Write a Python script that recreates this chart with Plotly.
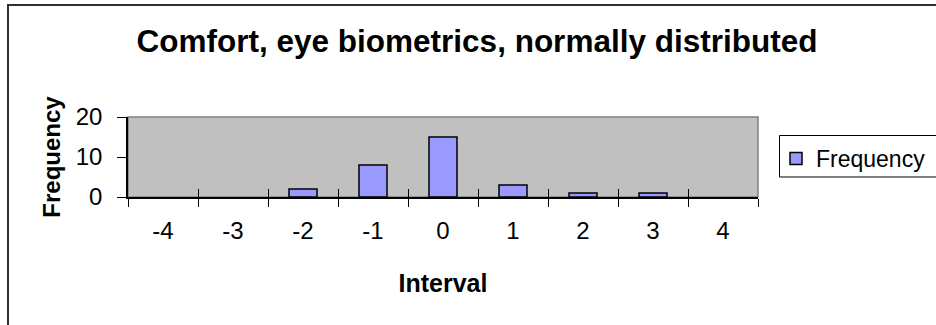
import plotly.graph_objects as go

categories = ["-4", "-3", "-2", "-1", "0", "1", "2", "3", "4"]
frequency = [0, 0, 2, 8, 15, 3, 1, 1, 0]
y_ticks = [0, 10, 20]

W, H = 936, 325
L, R, T, B = 128, 178, 117, 128
pw, ph = W - L - R, H - T - B

# zero-height bars are not drawn in the reference
bar_x = [c for c, v in zip(categories, frequency) if v > 0]
bar_y = [v for v in frequency if v > 0]

fig = go.Figure()
fig.add_trace(go.Bar(
    x=bar_x, y=bar_y, name="Frequency",
    marker=dict(color="#9999FF", line=dict(color="black", width=1.5)),
    showlegend=True,
))
# helper trace on overlay axis to draw inward tick part
fig.add_trace(go.Scatter(
    x=categories, y=[0] * len(categories), xaxis="x2", mode="markers",
    marker=dict(opacity=0), showlegend=False, hoverinfo="skip",
))

font = "Arial, Liberation Sans, sans-serif"

def px_x(p):
    return (p - L) / pw

def px_y(p):
    return (T + ph - p) / ph

fig.update_layout(
    width=W, height=H,
    margin=dict(l=L, r=R, t=T, b=B, autoexpand=False),
    paper_bgcolor="white",
    plot_bgcolor="#C0C0C0",
    font=dict(family=font, color="black", size=24),
    bargap=0.6,
    title=dict(
        text="<b>Comfort, eye biometrics, normally distributed</b>",
        x=477 / W, xanchor="center", y=1 - 41 / H, yanchor="middle",
        font=dict(size=31.5, family=font),
    ),
    xaxis=dict(
        type="category", categoryorder="array", categoryarray=categories,
        range=[-0.5, 8.5], automargin=False,
        tickson="boundaries", ticks="outside", ticklen=8, tickcolor="black",
        tickwidth=1, showline=True, linecolor="black", linewidth=1.5,
        showgrid=False, zeroline=False, ticklabelstandoff=11,
        tickfont=dict(size=24),
        title=dict(text="<b>Interval</b>", font=dict(size=25), standoff=32),
    ),
    xaxis2=dict(
        type="category", categoryorder="array", categoryarray=categories,
        range=[-0.5, 8.5], overlaying="x", anchor="y",
        tickson="boundaries", ticks="inside", ticklen=8, tickcolor="black",
        tickwidth=1, showticklabels=False, showline=False, showgrid=False,
        zeroline=False,
    ),
    yaxis=dict(
        range=[0, 20], tickvals=y_ticks, ticks="outside", ticklen=9,
        tickcolor="black", showline=True, linecolor="black", linewidth=1.5,
        showgrid=False, zeroline=False, tickfont=dict(size=24),
        ticklabelstandoff=10, automargin=False,
        title=dict(text="<b>Frequency</b>", font=dict(size=24), standoff=8),
    ),
    legend=dict(
        x=px_x(776), xanchor="left",
        y=px_y(137), yanchor="top",
        borderwidth=0, bgcolor="rgba(0,0,0,0)",
        font=dict(size=23),
    ),
    shapes=[
        dict(type="rect", xref="paper", yref="paper", x0=0, x1=1, y0=0, y1=1,
             line=dict(color="#808080", width=1.5), layer="below"),
        dict(type="rect", xref="paper", yref="paper",
             x0=px_x(8), x1=px_x(W + 20),
             y0=px_y(H + 20), y1=px_y(5),
             line=dict(color="#303030", width=2), layer="below"),
        dict(type="rect", xref="paper", yref="paper",
             x0=px_x(779.5), x1=px_x(W + 20),
             y0=px_y(177), y1=px_y(135.5),
             line=dict(color="black", width=1), layer="below"),
    ],
)

fig.write_html("out.html")
